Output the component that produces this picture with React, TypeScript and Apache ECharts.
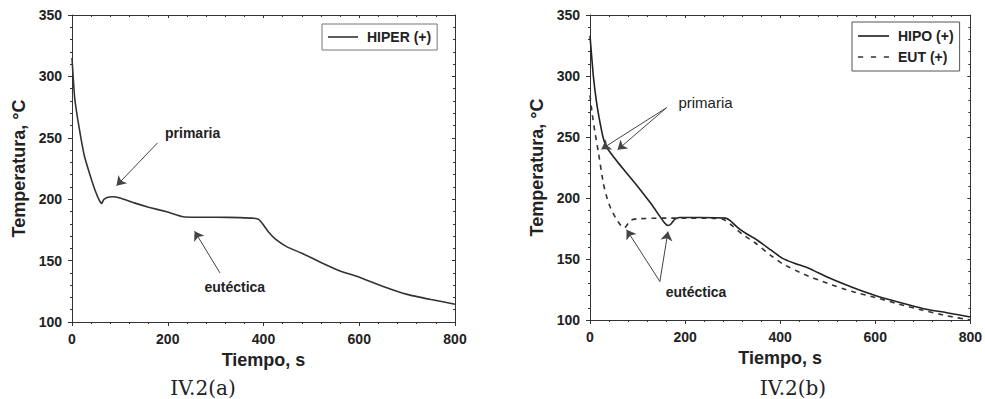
import React, { useEffect, useRef } from "react";
import * as echarts from "echarts";

// ---- Data ----
const hiperTime = [0, 3, 6, 12, 19, 26, 37, 47, 57, 62, 66, 72, 85, 100, 130, 160, 200, 235, 300, 350, 380, 390, 400, 410, 425, 450, 480, 520, 560, 600, 650, 700, 750, 800];
const hiperTemp = [315, 296, 281, 265, 249, 235, 220.5, 208.5, 199, 196.5, 199.5, 201.2, 202, 201, 197, 193.5, 189.5, 185.5, 185.3, 185, 184.5, 183.5, 179, 173.5, 167.5, 161, 156, 148.5, 141.5, 136.5, 129, 122.5, 118.3, 114.5];

const hipoTime = [0, 7, 14, 21, 28, 35, 45, 59, 94, 129, 145, 157, 164, 170, 178, 188, 230, 285, 295, 310, 330, 350, 380, 405, 430, 460, 500, 550, 600, 650, 700, 750, 800];
const hipoTemp = [333, 300, 278, 262, 249, 241.5, 236, 229, 212.5, 195, 186, 179.5, 177.5, 178.5, 182.5, 184, 184, 183.5, 181.5, 176, 170.5, 166, 157.5, 150.5, 146.5, 142.5, 135, 127, 120, 114.5, 109.5, 106, 102.5];

const eutTime = [0, 5, 10, 17, 28, 35, 42, 50, 56, 65, 73, 80, 87, 100, 150, 200, 250, 280, 300, 320, 350, 380, 405, 450, 500, 550, 600, 650, 700, 750, 800];
const eutTemp = [284, 268, 255, 239, 212, 201, 193, 186.5, 182.2, 177.5, 175.5, 179, 182, 183, 183.5, 183.5, 183.5, 182.5, 177, 170.5, 162.5, 153, 146, 137.5, 130, 123.5, 118.5, 113, 108, 103.5, 100];

const xTicks = { min: 0, max: 800, interval: 200 };
const yTicks = { min: 100, max: 350, interval: 50 };

const seriesNames = ["HIPER (+)", "HIPO (+)", "EUT (+)"];
const captions = ["IV.2(a)", "IV.2(b)"];
const xTitle = "Tiempo, s";
const yTitle = "Temperatura, °C";

// annotations in data coordinates: [t, T]
const leftPrimariaText: [number, number] = [252, 254];
const leftPrimariaArrow: [number, number][] = [[179, 246], [93, 211]];
const leftEutText: [number, number] = [340, 128.5];
const leftEutArrow: [number, number][] = [[309, 140], [256, 174]];

const rightPrimariaText: [number, number] = [243, 278.5];
const rightPrimariaArrows: [number, number][][] = [
  [[161, 274], [24, 240]],
  [[161, 274], [58, 239.5]],
];
const rightEutText: [number, number] = [223, 123];
const rightEutArrows: [number, number][][] = [
  [[147, 131.5], [77, 174]],
  [[147, 131.5], [164, 172.5]],
];

const zip = (a: number[], b: number[]) => a.map((v, i) => [v, b[i]]);

const FONT = "Liberation Sans";
const INK = "#222";
const SOLID_ICON = "path://M0,0H30V1.6H0Z";
const DASH_ICON = "path://M0,0H5V1.6H0Z M12.5,0H17.5V1.6H12.5Z M25,0H30V1.6H25Z";

function axesForGrid(g: number) {
  const lineStyle = { color: "#333", width: 1 };
  const xBottom = {
    type: "value", gridIndex: g, position: "bottom", ...xTicks,
    axisLine: { show: true, onZero: false, lineStyle },
    axisTick: { show: true, length: 4, lineStyle },
    minorTick: { show: true, splitNumber: 5, length: 2, lineStyle },
    splitLine: { show: false },
    axisLabel: { fontFamily: FONT, fontWeight: "bold", fontSize: 14, color: INK, margin: 10 },
    name: xTitle, nameLocation: "middle", nameGap: 29,
    nameTextStyle: { fontFamily: FONT, fontWeight: "bold", fontSize: 18, color: INK },
  };
  const xTop = {
    type: "value", gridIndex: g, position: "top", ...xTicks,
    axisLine: { show: true, onZero: false, lineStyle },
    axisTick: { show: true, inside: true, length: 3, lineStyle },
    minorTick: { show: true, splitNumber: 5, length: 2, lineStyle },
    splitLine: { show: false }, axisLabel: { show: false },
  };
  const yLeft = {
    type: "value", gridIndex: g, position: "left", ...yTicks,
    axisLine: { show: true, onZero: false, lineStyle },
    axisTick: { show: true, length: 4, lineStyle },
    minorTick: { show: true, splitNumber: 5, length: 2, lineStyle },
    splitLine: { show: false },
    axisLabel: { fontFamily: FONT, fontWeight: "bold", fontSize: 14, color: INK, margin: 10 },
    name: yTitle, nameLocation: "middle", nameGap: 44,
    nameTextStyle: { fontFamily: FONT, fontWeight: "bold", fontSize: 18, color: INK },
  };
  const yRight = {
    type: "value", gridIndex: g, position: "right", ...yTicks,
    axisLine: { show: true, onZero: false, lineStyle },
    axisTick: { show: true, inside: true, length: 3, lineStyle },
    minorTick: { show: true, splitNumber: 5, length: 2, lineStyle },
    splitLine: { show: false }, axisLabel: { show: false },
  };
  return { x: [xBottom, xTop], y: [yLeft, yRight] };
}

const arrowLine = (pairs: [number, number][][]) => ({
  silent: true,
  symbol: ["none", "arrow"],
  symbolSize: 9,
  label: { show: false },
  lineStyle: { color: "#444", width: 1, type: "solid" },
  data: pairs.map((p) => [{ coord: p[0] }, { coord: p[1] }]),
});

const textPoints = (items: { coord: [number, number]; text: string; weight: string; size: number }[]) => ({
  silent: true,
  symbol: "circle",
  symbolSize: 1,
  itemStyle: { color: "rgba(0,0,0,0)" },
  data: items.map((it) => ({
    coord: it.coord,
    label: {
      show: true, position: "inside", formatter: it.text,
      fontFamily: FONT, fontWeight: it.weight, fontSize: it.size, color: INK,
    },
  })),
});

export default function App() {
  const ref = useRef<HTMLDivElement>(null);
  useEffect(() => {
    if (!ref.current) return;
    const chart = echarts.init(ref.current, null, { renderer: "svg" });
    const a0 = axesForGrid(0);
    const a1 = axesForGrid(1);
    const lineCommon = { type: "line", symbol: "none", showSymbol: false, smooth: 0.15 };
    const legendText = { fontFamily: FONT, fontWeight: "bold", fontSize: 14, color: INK, padding: [0, 0, 0, 4] };
    chart.setOption({
      animation: false,
      backgroundColor: "#fff",
      grid: [
        { left: 72, top: 15, width: 383, height: 307, show: false },
        { left: 590, top: 15, width: 382, height: 305, show: false },
      ],
      xAxis: [...a0.x, ...a1.x],
      yAxis: [...a0.y, ...a1.y],
      legend: [
        {
          data: [{ name: seriesNames[0], icon: SOLID_ICON }], left: 322, top: 24, orient: "vertical",
          itemWidth: 30, itemHeight: 2, padding: [6, 6, 6, 6],
          borderColor: "#777", borderWidth: 1, borderRadius: 0,
          textStyle: legendText, selectedMode: false,
        },
        {
          data: [{ name: seriesNames[1], icon: SOLID_ICON }, { name: seriesNames[2], icon: DASH_ICON }],
          left: 852, top: 22, orient: "vertical",
          itemWidth: 31, itemHeight: 2, itemGap: 7, padding: [7, 6, 7, 6],
          borderColor: "#555", borderWidth: 1, borderRadius: 0,
          textStyle: legendText, selectedMode: false,
        },
      ],
      series: [
        {
          ...lineCommon, name: seriesNames[0], xAxisIndex: 0, yAxisIndex: 0,
          lineStyle: { color: "#333", width: 1.6, type: "solid" },
          itemStyle: { color: "#333" },
          data: zip(hiperTime, hiperTemp),
          markLine: arrowLine([leftPrimariaArrow, leftEutArrow]),
          markPoint: textPoints([
            { coord: leftPrimariaText, text: "primaria", weight: "bold", size: 14 },
            { coord: leftEutText, text: "eutéctica", weight: "bold", size: 14 },
          ]),
        },
        {
          ...lineCommon, name: seriesNames[1], xAxisIndex: 2, yAxisIndex: 2,
          lineStyle: { color: "#222", width: 1.6, type: "solid" },
          itemStyle: { color: "#222" },
          data: zip(hipoTime, hipoTemp),
          markLine: arrowLine([...rightPrimariaArrows, ...rightEutArrows]),
          markPoint: textPoints([
            { coord: rightPrimariaText, text: "primaria", weight: "normal", size: 15 },
            { coord: rightEutText, text: "eutéctica", weight: "bold", size: 14 },
          ]),
        },
        {
          ...lineCommon, name: seriesNames[2], xAxisIndex: 2, yAxisIndex: 2,
          lineStyle: { color: "#333", width: 1.6, type: [5, 5] },
          itemStyle: { color: "#333" },
          data: zip(eutTime, eutTemp),
        },
      ],
      graphic: [
        {
          type: "text", x: 203, y: 388,
          style: { text: captions[0], fontFamily: "DejaVu Serif", fontSize: 20, fill: "#222", textAlign: "center", textVerticalAlign: "middle" },
        },
        {
          type: "text", x: 793, y: 388,
          style: { text: captions[1], fontFamily: "DejaVu Serif", fontSize: 20, fill: "#222", textAlign: "center", textVerticalAlign: "middle" },
        },
      ],
    });
    return () => chart.dispose();
  }, []);
  return (
    <div
      ref={ref}
      style={{ position: "absolute", left: 0, top: 0, width: 985, height: 399 }}
    />
  );
}
